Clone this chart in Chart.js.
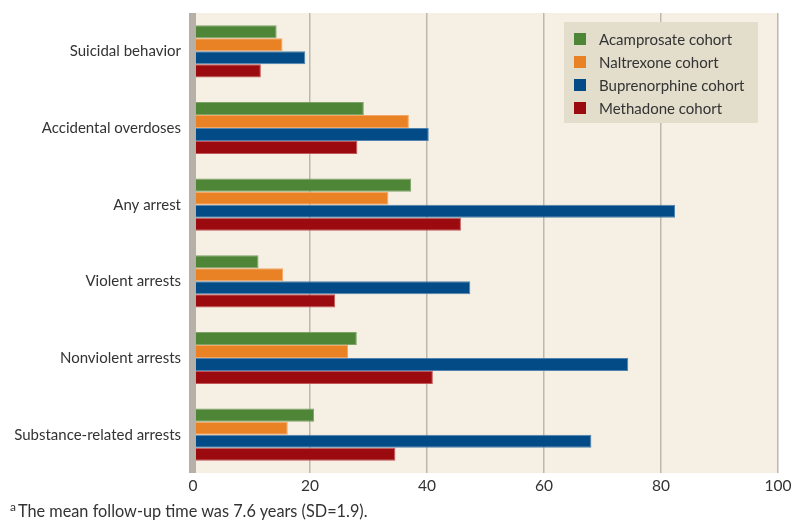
<!DOCTYPE html>
<html>
<head>
<meta charset="utf-8">
<script src="https://cdn.jsdelivr.net/npm/chart.js@4"></script>
<style>
  body { margin: 0; background: #fff; }
  #wrap { position: relative; width: 800px; height: 532px; }
  #nota { position: absolute; left: 10px; top: 501px; font: 16.3px Lato, sans-serif; color: #333; }
  #nota sup { font-size: 12px; vertical-align: 6px; line-height: 0; margin-right: 2px; }
</style>
</head>
<body>
<div id="wrap">
  <canvas id="grafico" width="800" height="532"></canvas>
  <div id="nota"><sup>a</sup>The mean follow-up time was 7.6 years (SD=1.9).</div>
</div>
<script>
const categorias = ['Suicidal behavior', 'Accidental overdoses', 'Any arrest', 'Violent arrests', 'Nonviolent arrests', 'Substance-related arrests']
const acamprosato = [14.3, 29.2, 37.3, 11.2, 28.0, 20.7]
const naltrexona = [15.3, 36.9, 33.4, 15.4, 26.5, 16.2]
const buprenorfina = [19.2, 40.3, 82.4, 47.4, 74.4, 68.1]
const metadona = [11.6, 28.1, 45.8, 24.3, 41.0, 34.6]
const ticksX = [0, 20, 40, 60, 80, 100]

const fuente = 'Lato, sans-serif'
const colores = ['#4e8537', '#e98125', '#034b87', '#9b0a0e']
const bordes = ['#7ea468', '#f3a765', '#4f82ae', '#c0585a']

// fondo beige del area del grafico
const fondo = {
    id: 'fondo',
    beforeDraw(chart) {
        const { ctx, chartArea: a } = chart
        ctx.save()
        ctx.fillStyle = '#f6efe3'
        ctx.fillRect(a.left, a.top, a.right - a.left, a.bottom - a.top)
        ctx.restore()
    },
    afterDatasetsDraw(chart) {
        const { ctx, chartArea: a } = chart
        ctx.save()
        // barra gris del eje
        ctx.fillStyle = '#b5b0a8'
        ctx.fillRect(a.left - 4, a.top, 7, a.bottom - a.top)
        // leyenda
        ctx.fillStyle = '#e3ddcc'
        ctx.fillRect(564, 22, 194, 101)
        chart.data.datasets.forEach((ds, i) => {
            const y = 39 + i * 23
            ctx.fillStyle = ds.backgroundColor
            ctx.fillRect(574, y - 6, 12, 12)
            ctx.fillStyle = '#333'
            ctx.font = '15px ' + fuente
            ctx.textBaseline = 'middle'
            ctx.fillText(ds.label, 599, y + 1)
        })
        ctx.restore()
    }
}

const series = [
    ['Acamprosate cohort', acamprosato],
    ['Naltrexone cohort', naltrexona],
    ['Buprenorphine cohort', buprenorfina],
    ['Methadone cohort', metadona]
]

new Chart(document.querySelector('#grafico'), {
    type: 'bar',
    data: {
        labels: categorias,
        datasets: series.map((s, i) => ({
            label: s[0],
            data: s[1],
            backgroundColor: colores[i],
            borderColor: bordes[i],
            borderWidth: 1,
            borderSkipped: 'left',
            barPercentage: 1,
            categoryPercentage: 0.68
        }))
    },
    options: {
        indexAxis: 'y',
        responsive: false,
        animation: false,
        layout: { padding: { top: 4, right: 22, bottom: 35, left: 0 } },
        plugins: { legend: { display: false }, tooltip: { enabled: false } },
        scales: {
            x: {
                min: 0,
                max: 100,
                afterFit: (s) => { s.height = 24 },
                afterBuildTicks: (s) => { s.ticks = ticksX.map(v => ({ value: v })) },
                grid: { color: '#bdb7ad', lineWidth: 1.5, drawTicks: false },
                border: { display: false },
                ticks: { color: '#333', font: { family: fuente, size: 15.5 }, padding: 4 }
            },
            y: {
                afterFit: (s) => { s.width = 193 },
                grid: { display: false },
                border: { display: false },
                ticks: { color: '#333', font: { family: fuente, size: 15 }, padding: 4 }
            }
        }
    },
    plugins: [fondo]
})
</script>
</body>
</html>
